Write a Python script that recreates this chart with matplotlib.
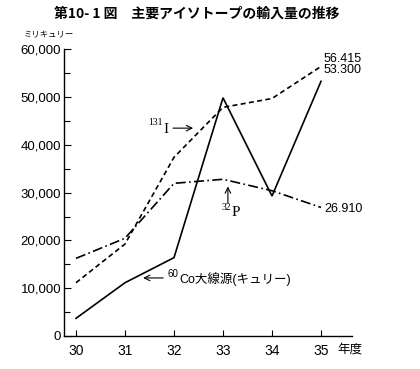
import matplotlib
matplotlib.use("Agg")
import matplotlib.pyplot as plt
from matplotlib.ticker import MultipleLocator, FixedLocator

plt.rcParams['font.family'] = ['Liberation Sans', 'Noto Sans CJK JP', 'DejaVu Sans']

years = [30, 31, 32, 33, 34, 35]
year_labels = ["30", "31", "32", "33", "34", "35"]
co60 = [3700, 11150, 16400, 49850, 29300, 53300]
i131 = [11150, 19250, 37400, 47850, 49700, 56415]
p32 = [16250, 20450, 31950, 32800, 30400, 26910]
y_ticks = [0, 10000, 20000, 30000, 40000, 50000, 60000]
y_tick_labels = ["0", "10,000", "20,000", "30,000", "40,000", "50,000", "60,000"]
end_labels = {"i131": "56.415", "co60": "53.300", "p32": "26.910"}

fig = plt.figure(figsize=(4.2, 3.69), dpi=100)
ax = fig.add_axes([64/420, 1-336/369, (352-64)/420, (336-49.3)/369])

lw = 1.2
ax.plot(years, co60, color='black', lw=lw, solid_joinstyle='miter')
ax.plot(years, i131, color='black', lw=lw, dashes=(3, 2))
ax.plot(years, p32, color='black', lw=lw, dashes=(6, 2, 1, 2))

ax.set_xlim(30 - 12/49, 35 + 31/49)
ax.set_ylim(0, 60000)
for s in ['top', 'right']:
    ax.spines[s].set_visible(False)
for s in ['left', 'bottom']:
    ax.spines[s].set_linewidth(1.0)

ax.xaxis.set_major_locator(FixedLocator(years))
ax.set_xticklabels(year_labels, fontsize=10)
ax.yaxis.set_major_locator(FixedLocator(y_ticks))
ax.set_yticklabels(y_tick_labels, fontsize=9.5)
ax.yaxis.set_minor_locator(MultipleLocator(5000))
ax.tick_params(axis='x', direction='in', length=4, width=0.8, pad=6)
ax.tick_params(axis='y', which='major', direction='in', length=5, width=0.8, pad=2)
ax.tick_params(axis='y', which='minor', direction='in', length=4, width=0.8)

# end value labels
ax.text(35.06, 57900, end_labels["i131"], fontsize=9, ha='left', va='center')
ax.text(35.06, 55600, end_labels["co60"], fontsize=9, ha='left', va='center')
ax.text(35.06, 26500, end_labels["p32"], fontsize=9, ha='left', va='center')

arrow = dict(arrowstyle='->', color='black', lw=0.8, shrinkA=0, shrinkB=0)
serif = 'Liberation Serif'

# 131I label
ax.annotate('', xy=(32.39, 43500), xytext=(31.98, 43500), arrowprops=arrow)
ax.text(31.88, 43300, 'I', fontsize=11, family=serif, ha='right', va='center')
ax.text(31.76, 44600, '131', fontsize=7, family=serif, ha='right', va='center')

# 32P label
ax.annotate('', xy=(33.10, 31300), xytext=(33.10, 27800), arrowprops=arrow)
ax.text(33.17, 25900, 'P', fontsize=11, family=serif, ha='left', va='center')
ax.text(33.17, 26900, '32', fontsize=7, family=serif, ha='right', va='center')

# 60Co label
ax.annotate('', xy=(31.37, 12150), xytext=(31.78, 12150), arrowprops=arrow)
ax.text(31.87, 12900, '60', fontsize=7, ha='left', va='center')
ax.text(32.11, 12000, 'Co大線源(キュリー)', fontsize=9,
        family=['Liberation Sans', 'Noto Sans CJK JP'], ha='left', va='center')

# axis unit labels
fig.text(24/420, 1-35/369, 'ミリキュリー', fontsize=6,
         family=['Noto Sans CJK JP'], ha='left', va='center')
fig.text(337/420, 1-349/369, '年度', fontsize=9,
         family=['Noto Sans CJK JP'], ha='left', va='center')

fig.text(197/420, 1-14/369, '第10- 1 図　主要アイソトープの輸入量の推移',
         fontsize=10, fontweight='bold', family=['Noto Sans CJK JP'],
         ha='center', va='center')

fig.savefig('out.png', dpi=100)
